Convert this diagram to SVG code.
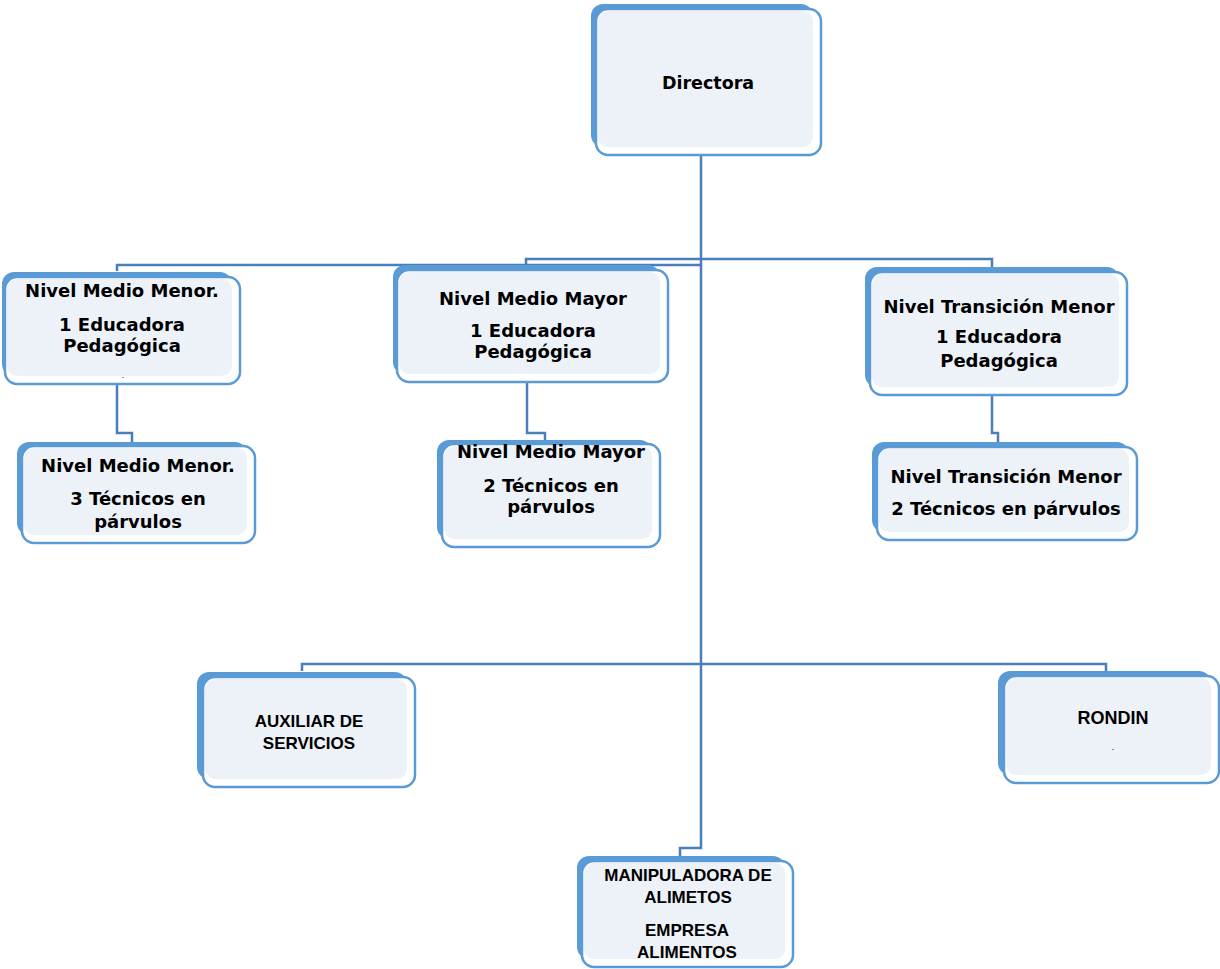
<svg xmlns="http://www.w3.org/2000/svg" width="1220" height="969" viewBox="0 0 1220 969">
<style>
.bk{fill:#5b9bd5}
.fr{fill:#ffffff;stroke:#5b9bd5;stroke-width:2.5}
.in{fill:#edf2f9}
.ln{fill:none;stroke:#4a7ebb;stroke-width:2.5}
.g{font-family:"DejaVu Sans",sans-serif;font-weight:bold;font-size:18px;fill:#000;text-anchor:middle}
.c{font-family:"Liberation Sans",Arial,sans-serif;font-weight:bold;font-size:17px;fill:#000;text-anchor:middle}
.dot{font-family:"Liberation Sans",sans-serif;font-size:9px;fill:#000;text-anchor:middle}
</style>
<rect width="1220" height="969" fill="#ffffff"/>
<g id="connectors">
<path class="ln" d="M701,155 V848 H680 V858"/>
<path class="ln" d="M117,271 V265 H701"/>
<path class="ln" d="M526,265 V259 H992 V267"/>
<path class="ln" d="M302,671 V664 H1106 V671"/>
<path class="ln" d="M117,384 V433 H132 V442"/>
<path class="ln" d="M527,382 V433 H545 V440"/>
<path class="ln" d="M992,395 V433 H998 V442"/>
</g>
<g id="directora">
<rect class="bk" x="591" y="4" width="222" height="143" rx="12"/>
<rect class="fr" x="596" y="9" width="225" height="146" rx="12"/>
<rect class="in" x="598" y="11" width="215" height="136" rx="10"/>
<text class="g" x="708" y="89" style="font-size:17.5px">Directora</text>
</g>
<g id="nmm1">
<rect class="bk" x="2" y="272" width="230" height="104" rx="12"/>
<rect class="fr" x="5" y="277" width="235" height="107" rx="12"/>
<rect class="in" x="7" y="279" width="225" height="97" rx="10"/>
<text class="g" x="122" y="297">Nivel Medio Menor.</text>
<text class="g" x="122" y="331">1 Educadora</text>
<text class="g" x="122" y="352">Pedagógica</text>
<text class="dot" x="123" y="378">.</text>
</g>
<g id="nmmay1">
<rect class="bk" x="393" y="265" width="267" height="109" rx="12"/>
<rect class="fr" x="397" y="270" width="271" height="112" rx="12"/>
<rect class="in" x="399" y="272" width="261" height="102" rx="10"/>
<text class="g" x="533" y="305">Nivel Medio Mayor</text>
<text class="g" x="533" y="337">1 Educadora</text>
<text class="g" x="533" y="358">Pedagógica</text>
</g>
<g id="ntm1">
<rect class="bk" x="865" y="267" width="254" height="120" rx="12"/>
<rect class="fr" x="870" y="272" width="257" height="123" rx="12"/>
<rect class="in" x="872" y="274" width="247" height="113" rx="10"/>
<text class="g" x="999" y="313">Nivel Transición Menor</text>
<text class="g" x="999" y="343">1 Educadora</text>
<text class="g" x="999" y="367">Pedagógica</text>
</g>
<g id="nmm2">
<rect class="bk" x="17" y="442" width="230" height="93" rx="12"/>
<rect class="fr" x="22" y="446" width="233" height="97" rx="12"/>
<rect class="in" x="24" y="448" width="223" height="87" rx="10"/>
<text class="g" x="138" y="472">Nivel Medio Menor.</text>
<text class="g" x="138" y="505">3 Técnicos en</text>
<text class="g" x="138" y="528">párvulos</text>
</g>
<g id="nmmay2">
<rect class="bk" x="437" y="440" width="215" height="99" rx="12"/>
<rect class="fr" x="442" y="444" width="218" height="103" rx="12"/>
<rect class="in" x="444" y="446" width="208" height="93" rx="10"/>
<text class="g" x="551" y="458">Nivel Medio Mayor</text>
<text class="g" x="551" y="492">2 Técnicos en</text>
<text class="g" x="551" y="513">párvulos</text>
</g>
<g id="ntm2">
<rect class="bk" x="872" y="442" width="257" height="90" rx="12"/>
<rect class="fr" x="877" y="447" width="260" height="93" rx="12"/>
<rect class="in" x="879" y="449" width="250" height="83" rx="10"/>
<text class="g" x="1006" y="483">Nivel Transición Menor</text>
<text class="g" x="1006" y="515">2 Técnicos en párvulos</text>
</g>
<g id="auxiliar">
<rect class="bk" x="197" y="672" width="210" height="107" rx="12"/>
<rect class="fr" x="203" y="677" width="212" height="110" rx="12"/>
<rect class="in" x="205" y="679" width="202" height="100" rx="10"/>
<text class="c" x="309" y="727">AUXILIAR DE</text>
<text class="c" x="309" y="749">SERVICIOS</text>
</g>
<g id="rondin">
<rect class="bk" x="998" y="671" width="213" height="104" rx="12"/>
<rect class="fr" x="1004" y="676" width="215" height="107" rx="12"/>
<rect class="in" x="1006" y="678" width="205" height="97" rx="10"/>
<text class="c" x="1113" y="724" style="font-size:18px">RONDIN</text>
<text class="dot" x="1113" y="750">.</text>
</g>
<g id="manipuladora">
<rect class="bk" x="577" y="856" width="208" height="103" rx="12"/>
<rect class="fr" x="582" y="861" width="211" height="106" rx="12"/>
<rect class="in" x="584" y="863" width="201" height="96" rx="10"/>
<text class="c" x="688" y="881">MANIPULADORA DE</text>
<text class="c" x="688" y="903">ALIMETOS</text>
<text class="c" x="687" y="936">EMPRESA</text>
<text class="c" x="687" y="958">ALIMENTOS</text>
</g>
</svg>
